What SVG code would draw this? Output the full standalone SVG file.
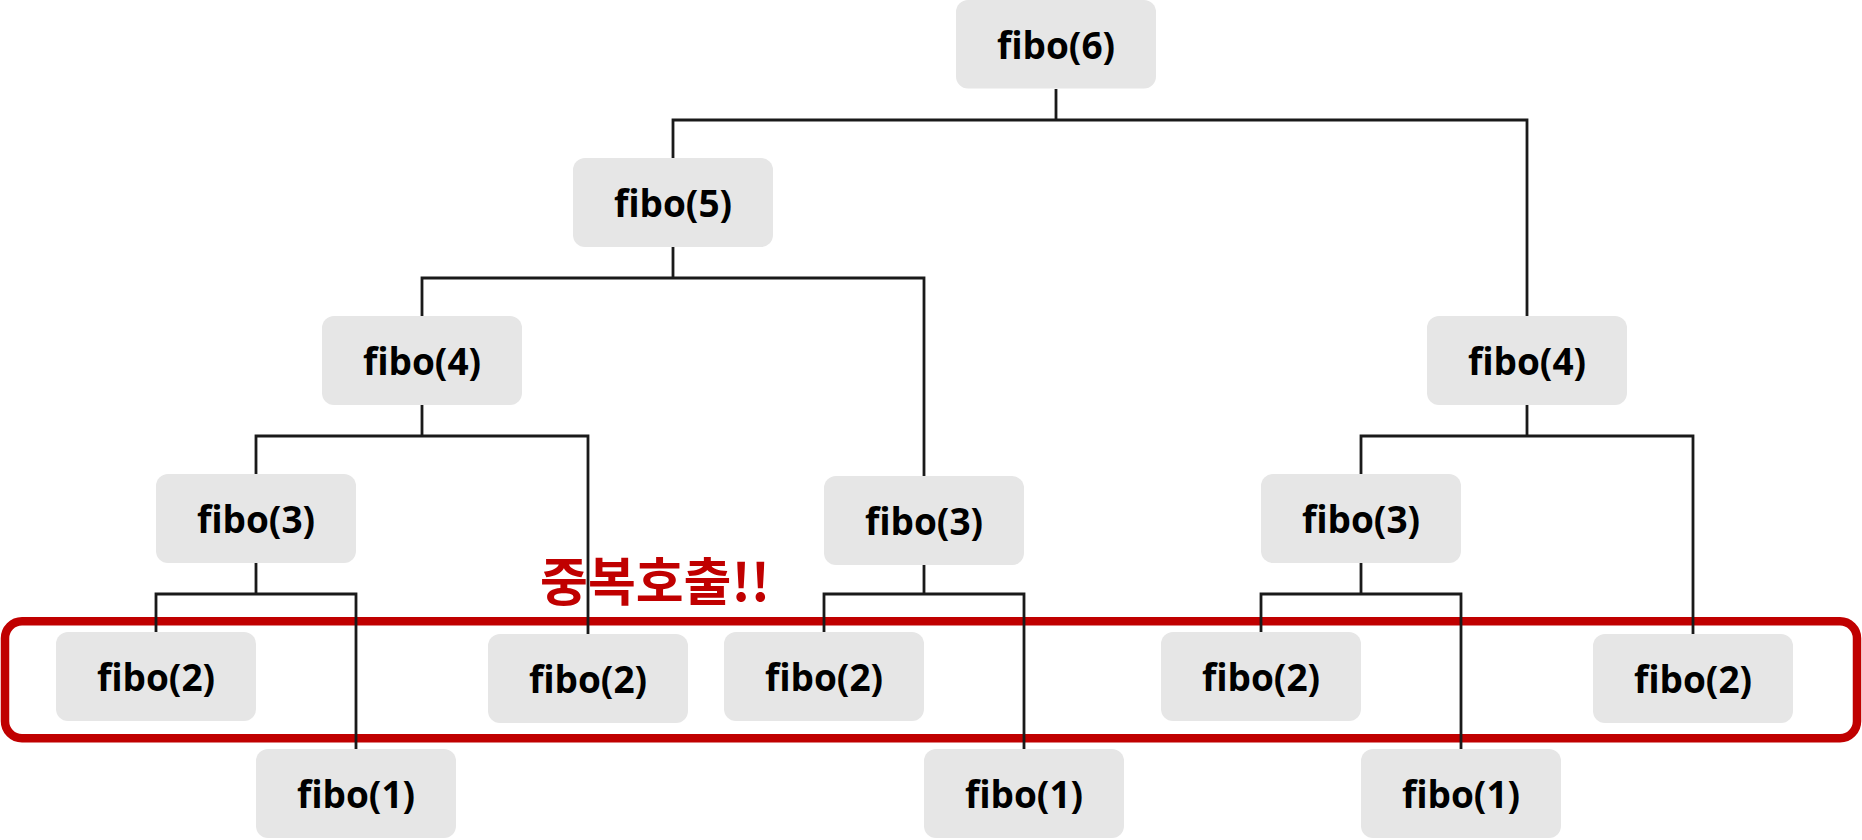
<svg xmlns="http://www.w3.org/2000/svg" width="1862" height="840" viewBox="0 0 1862 840">
<style>
.box{fill:#E6E6E6}
.lbl{font-family:"Open Sans","Noto Sans","Liberation Sans",sans-serif;font-weight:bold;font-size:37px;fill:#000;text-anchor:middle}
.con{fill:none;stroke:#1a1a1a;stroke-width:2.8}
.warn{font-family:"Noto Sans CJK KR","Noto Sans",sans-serif;font-weight:bold;font-size:52px;fill:#C00000;text-anchor:middle}
</style>
<rect width="1862" height="840" fill="#fff"/>
<g id="highlight">
<rect x="5" y="621.3" width="1852" height="117" rx="17" fill="none" stroke="#C00000" stroke-width="8.5"/>
<text class="warn" x="655" y="601">중복호출!!</text>
</g>
<g id="connectors">
<path class="con" d="M1056 89V120M673 158V120H1527V316"/>
<path class="con" d="M673 247V278M422 316V278H924V476"/>
<path class="con" d="M422 405V436M256 474V436H588V634"/>
<path class="con" d="M1527 405V436M1361 474V436H1693V634"/>
<path class="con" d="M256 563V594M156 632V594H356V749"/>
<path class="con" d="M924 565V594M824 632V594H1024V749"/>
<path class="con" d="M1361 563V594M1261 632V594H1461V749"/>
</g>
<g id="n-fibo6"><rect class="box" x="956" y="0" width="200" height="88.5" rx="12"/><text class="lbl" x="1056" y="59">fibo(6)</text></g>
<g id="n-fibo5"><rect class="box" x="573" y="158" width="200" height="89" rx="12"/><text class="lbl" x="673" y="216.5">fibo(5)</text></g>
<g id="n-fibo4-left"><rect class="box" x="322" y="316" width="200" height="89" rx="12"/><text class="lbl" x="422" y="374.5">fibo(4)</text></g>
<g id="n-fibo4-right"><rect class="box" x="1427" y="316" width="200" height="89" rx="12"/><text class="lbl" x="1527" y="374.5">fibo(4)</text></g>
<g id="n-fibo3-left"><rect class="box" x="156" y="474" width="200" height="89" rx="12"/><text class="lbl" x="256" y="532.5">fibo(3)</text></g>
<g id="n-fibo3-mid"><rect class="box" x="824" y="476" width="200" height="89" rx="12"/><text class="lbl" x="924" y="534.5">fibo(3)</text></g>
<g id="n-fibo3-right"><rect class="box" x="1261" y="474" width="200" height="89" rx="12"/><text class="lbl" x="1361" y="532.5">fibo(3)</text></g>
<g id="n-fibo2-a"><rect class="box" x="56" y="632" width="200" height="89" rx="12"/><text class="lbl" x="156" y="690.5">fibo(2)</text></g>
<g id="n-fibo2-b"><rect class="box" x="488" y="634" width="200" height="89" rx="12"/><text class="lbl" x="588" y="692.5">fibo(2)</text></g>
<g id="n-fibo2-c"><rect class="box" x="724" y="632" width="200" height="89" rx="12"/><text class="lbl" x="824" y="690.5">fibo(2)</text></g>
<g id="n-fibo2-d"><rect class="box" x="1161" y="632" width="200" height="89" rx="12"/><text class="lbl" x="1261" y="690.5">fibo(2)</text></g>
<g id="n-fibo2-e"><rect class="box" x="1593" y="634" width="200" height="89" rx="12"/><text class="lbl" x="1693" y="692.5">fibo(2)</text></g>
<g id="n-fibo1-a"><rect class="box" x="256" y="749" width="200" height="89" rx="12"/><text class="lbl" x="356" y="807.5">fibo(1)</text></g>
<g id="n-fibo1-b"><rect class="box" x="924" y="749" width="200" height="89" rx="12"/><text class="lbl" x="1024" y="807.5">fibo(1)</text></g>
<g id="n-fibo1-c"><rect class="box" x="1361" y="749" width="200" height="89" rx="12"/><text class="lbl" x="1461" y="807.5">fibo(1)</text></g>
</svg>
